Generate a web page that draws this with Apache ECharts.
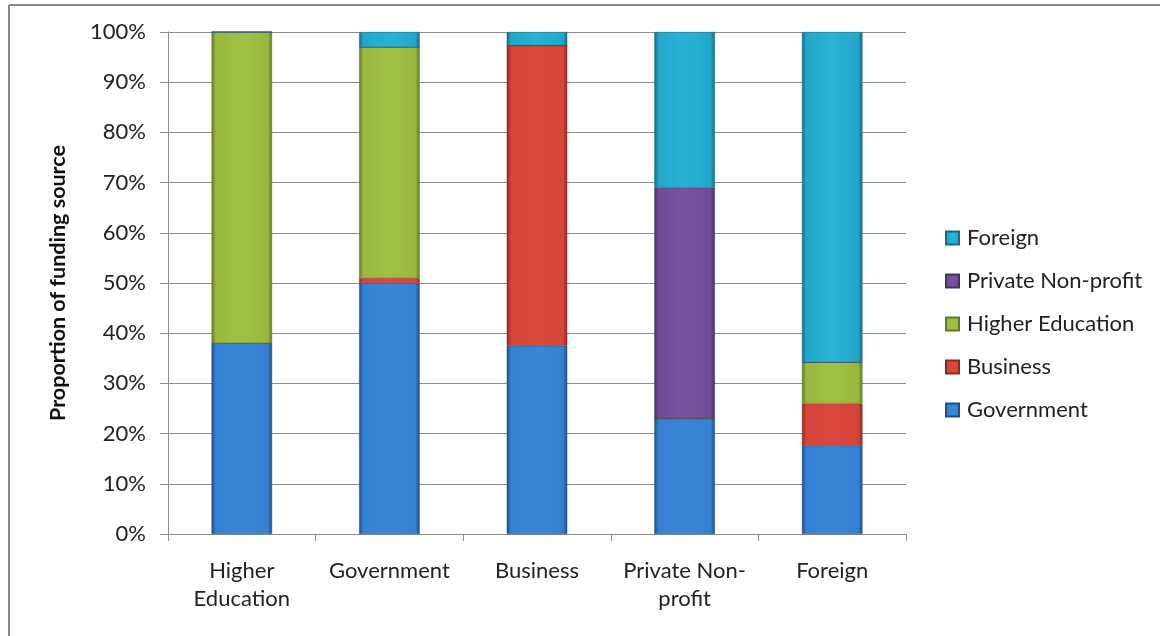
<!DOCTYPE html>
<html>
<head>
<meta charset="utf-8">
<script src="https://cdn.jsdelivr.net/npm/echarts@6/dist/echarts.min.js"></script>
<style>
html,body{margin:0;padding:0;background:#fff;}
#main{width:1160px;height:636px;}
</style>
</head>
<body>
<div id="main"></div>
<script>
const categories = ['Higher\nEducation', 'Government', 'Business', 'Private Non-\nprofit', 'Foreign'];
const government = [38, 50, 37.5, 23, 17.6];
const business = [0, 1, 59.8, 0, 8.4];
const higherEducation = [62, 46, 0, 0, 8.2];
const privateNonProfit = [0, 0, 0, 46, 0];
const foreign = [0, 3, 2.7, 31, 65.8];
const yTicks = [0, 10, 20, 30, 40, 50, 60, 70, 80, 90, 100];

const chart = echarts.init(document.getElementById('main'));

function bevel(base, dark, light) {
  return new echarts.graphic.LinearGradient(0, 0, 1, 0, [
    {offset: 0, color: dark},
    {offset: 0.07, color: base},
    {offset: 0.5, color: light},
    {offset: 0.93, color: base},
    {offset: 1, color: dark}
  ]);
}

const seriesDefs = [
  {name: 'Government', data: government, base: '#3580d2', dark: '#1f4f86', light: '#3a86d8'},
  {name: 'Business', data: business, base: '#d6443a', dark: '#8c2a22', light: '#dc473c'},
  {name: 'Higher Education', data: higherEducation, base: '#98b83e', dark: '#5f7a24', light: '#a0c244'},
  {name: 'Private Non-profit', data: privateNonProfit, base: '#6e4d98', dark: '#46305f', light: '#7554a0'},
  {name: 'Foreign', data: foreign, base: '#22a7c9', dark: '#156a82', light: '#29b2d6'}
];

const fontFamily = 'Lato, "Open Sans", sans-serif';

chart.setOption({
  animation: false,
  backgroundColor: '#fff',
  graphic: [
    {type: 'line', shape: {x1: 9, y1: 5, x2: 1160, y2: 5}, style: {stroke: '#878787', lineWidth: 2}},
    {type: 'line', shape: {x1: 9, y1: 5, x2: 9, y2: 636}, style: {stroke: '#878787', lineWidth: 2}}
  ],
  legend: {
    orient: 'vertical',
    left: 940,
    top: 222,
    itemWidth: 13,
    itemHeight: 13,
    itemGap: 21,
    icon: 'rect',
    data: ['Foreign', 'Private Non-profit', 'Higher Education', 'Business', 'Government'],
    textStyle: {fontFamily: fontFamily, fontSize: 22, color: '#222', padding: [0, 0, 0, 3]}
  },
  grid: {left: 168, right: 254, top: 32, bottom: 102},
  xAxis: {
    type: 'category',
    data: categories,
    axisLine: {show: true, lineStyle: {color: '#8c8c8c', width: 1}},
    axisTick: {show: true, length: 7, lineStyle: {color: '#8c8c8c'}},
    axisLabel: {fontFamily: fontFamily, fontSize: 22, color: '#222', margin: 23, lineHeight: 28, interval: 0}
  },
  yAxis: {
    type: 'value',
    min: 0,
    max: 100,
    interval: 10,
    name: 'Proportion of funding source',
    nameLocation: 'middle',
    nameRotate: 90,
    nameGap: 99,
    nameTextStyle: {fontFamily: fontFamily, fontSize: 21.5, fontWeight: 'bold', color: '#111'},
    axisLine: {show: true, lineStyle: {color: '#8c8c8c', width: 1}},
    axisTick: {show: true, length: 8, lineStyle: {color: '#8c8c8c'}},
    axisLabel: {
      fontFamily: fontFamily, fontSize: 22, color: '#222', margin: 22,
      formatter: v => (yTicks.indexOf(v) >= 0 ? v + '%' : '')
    },
    splitLine: {show: true, lineStyle: {color: '#8c8c8c', width: 1}}
  },
  series: seriesDefs.map(s => ({
    name: s.name,
    type: 'bar',
    stack: 'total',
    data: s.data,
    barWidth: '41%',
    color: s.base,
    itemStyle: {color: bevel(s.base, s.dark, s.light), borderColor: s.dark, borderWidth: 0.5},
    emphasis: {disabled: true}
  }))
});
</script>
</body>
</html>
